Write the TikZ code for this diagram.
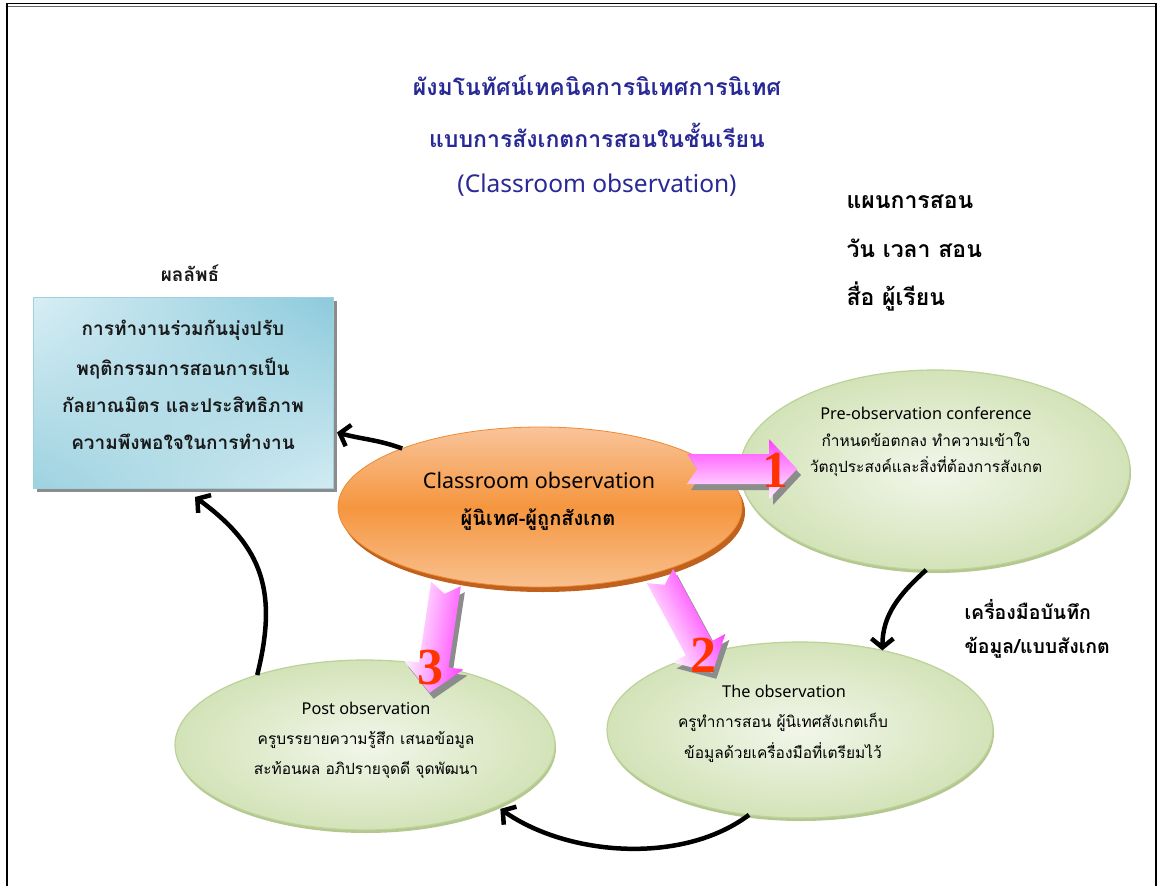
\documentclass[tikz,border=0pt]{standalone}
\usepackage{fontspec}
\usetikzlibrary{shapes.geometric,arrows.meta,calc,shadings}
\newfontfamily\thai[Script=Thai]{Loma}
\newfontfamily\lat{Noto Sans}
\newfontfamily\numfont{Liberation Serif}
\definecolor{titleblue}{RGB}{40,40,150}
\definecolor{grIn}{HTML}{F2F6EA}
\definecolor{grOut}{HTML}{D3E3B8}
\definecolor{grLine}{HTML}{BCD298}
\definecolor{grShadow}{HTML}{B3C78F}
\definecolor{orTop}{HTML}{F9C49A}
\definecolor{orMid}{HTML}{F5963F}
\definecolor{orBot}{HTML}{F9C08E}
\definecolor{orLine}{HTML}{EE8A32}
\definecolor{orShadow}{HTML}{C0621D}
\definecolor{bUL}{HTML}{D8EEF4}
\definecolor{bUR}{HTML}{8CCADC}
\definecolor{bLL}{HTML}{9DD2E0}
\definecolor{bLR}{HTML}{D2EBF2}
\definecolor{bLine}{HTML}{9FD0DE}
\definecolor{shGray}{HTML}{8C8C8C}
\definecolor{arrMag}{HTML}{FF40FF}
\definecolor{arrWhite}{HTML}{FFF4FF}
\definecolor{numRed}{HTML}{FF3300}
\newcommand\pinkarrow[3]{%
  \begin{scope}[transform canvas={shift={(#1+4,#2+6)},rotate=#3}]
    \fill[shGray] (0,-15) -- (82,-15) -- (82,-30) -- (110,0) -- (82,30) -- (82,15) -- (0,15) -- (10,0) -- cycle;
  \end{scope}
  \begin{scope}[transform canvas={shift={(#1,#2)},rotate=#3}]
    \shade[top color=arrMag,bottom color=arrWhite] (0,-15) -- (82,-15) -- (82,-30) -- (110,0) -- (82,30) -- (82,15) -- (0,15) -- (10,0) -- cycle;
  \end{scope}}
\begin{document}
\begin{tikzpicture}[x=1pt,y=-1pt,
  titleT/.style={text=titleblue,font=\thai\bfseries\fontsize{23}{27}\selectfont},
  titleL/.style={text=titleblue,font=\lat\fontsize{24.5}{28}\selectfont},
  sideT/.style={anchor=west,font=\thai\bfseries\fontsize{23}{27}\selectfont},
  boxT/.style={text=black!90,font=\thai\bfseries\fontsize{19}{23}\selectfont},
  ellT/.style={font=\thai\fontsize{15.5}{19}\selectfont},
  ellL/.style={font=\lat\fontsize{16.3}{19}\selectfont},
  cenL/.style={font=\lat\fontsize{21.5}{25}\selectfont},
  cenT/.style={font=\thai\bfseries\fontsize{20}{24}\selectfont},
  greenell/.style={ellipse,draw=grLine,line width=1.2pt,inner color=grIn,outer color=grOut,inner sep=0pt,outer sep=0pt},
  greensh/.style={ellipse,fill=grShadow,inner sep=0pt,outer sep=0pt},
  numlab/.style={text=numRed,font=\numfont\bfseries\fontsize{52}{52}\selectfont,inner sep=0pt},
  blk/.style={line width=4.5pt,-{Straight Barb[length=9pt,width=22pt]}}
]
\useasboundingbox (0,0) rectangle (1160,886);
\fill[white] (0,0) rectangle (1160,886);
% frame
\draw[line width=1.3pt] (7,886) -- (7,3.5) -- (1156,3.5) -- (1156,886);
\draw[line width=0.6pt,black!60] (8,6.5) -- (1155,6.5);

% titles
\node[titleT] (t1) at (597,85) {ผังมโนทัศน์เทคนิคการนิเทศการนิเทศ};
\node[titleT] (t2) at (597,135) {แบบการสังเกตการสอนในชั้นเรียน};
\node[titleL] (t3) at (597,185) {(Classroom observation)};

% right block
\node[sideT] (r1) at (843,202) {แผนการสอน};
\node[sideT] (r2) at (843,248) {วัน เวลา สอน};
\node[sideT] (r3) at (843,297) {สื่อ ผู้เรียน};

% result box
\node[boxT] (reslab) at (190,273) {ผลลัพธ์};
\fill[shGray] (37,301) rectangle (337,492);
\node[rectangle,draw=bLine,line width=0.8pt,upper left=bUL,upper right=bUR,lower left=bLL,lower right=bLR,
      minimum width=300pt,minimum height=191pt,inner sep=0pt,outer sep=0pt] (box) at (183,392.5) {};
\node[boxT] (b1) at (183,330) {การทำงานร่วมกันมุ่งปรับ};
\node[boxT] (b2) at (183,368) {พฤติกรรมการสอนการเป็น};
\node[boxT] (b3) at (183,405) {กัลยาณมิตร และประสิทธิภาพ};
\node[boxT] (b4) at (183,442) {ความพึงพอใจในการทำงาน};

% green ellipses
\node[greensh,minimum width=390pt,minimum height=200pt] (preS) at (936,473) {};
\node[greenell,minimum width=390pt,minimum height=200pt] (pre) at (935,470) {};
\node[greensh,minimum width=386pt,minimum height=176pt] (obsS) at (801,733) {};
\node[greenell,minimum width=386pt,minimum height=176pt] (obs) at (800,730) {};
\node[greensh,minimum width=380pt,minimum height=170pt] (postS) at (366,748) {};
\node[greenell,minimum width=380pt,minimum height=170pt] (post) at (365,745) {};

% central ellipse
\node[ellipse,fill=orShadow,minimum width=404pt,minimum height=160pt,inner sep=0pt] (coS) at (543,512) {};
\node[ellipse,draw=orLine,line width=0.8pt,top color=orTop,bottom color=orBot,middle color=orMid,
      minimum width=404pt,minimum height=160pt,inner sep=0pt,outer sep=0pt] (co) at (540,507) {};

% pink arrows
\pinkarrow{687}{469}{0}
\pinkarrow{660}{576}{-61.6}
\pinkarrow{446}{584}{-98.6}
\node[numlab] (n1) at (775,470) {1};
\node[numlab] (n2) at (703,655) {2};
\node[numlab] (n3) at (430,668) {3};

% texts in ellipses
\node[cenL] (c1) at (539,480) {Classroom observation};
\node[cenT] (c2) at (538,520) {ผู้นิเทศ-ผู้ถูกสังเกต};
\node[ellL] (p1) at (926,413) {Pre-observation conference};
\node[ellT] (p2) at (926,440) {กำหนดข้อตกลง ทำความเข้าใจ};
\node[ellT] (p3) at (926,467) {วัตถุประสงค์และสิ่งที่ต้องการสังเกต};
\node[ellL] (o1) at (784,691) {The observation};
\node[ellT] (o2) at (783,722) {ครูทำการสอน ผู้นิเทศสังเกตเก็บ};
\node[ellT] (o3) at (783,753) {ข้อมูลด้วยเครื่องมือที่เตรียมไว้};
\node[ellL] (q1) at (366,708) {Post observation};
\node[ellT] (q2) at (366,740) {ครูบรรยายความรู้สึก เสนอข้อมูล};
\node[ellT] (q3) at (366,770) {สะท้อนผล อภิปรายจุดดี จุดพัฒนา};

% side text
\node[sideT,font=\thai\bfseries\fontsize{19.5}{23}\selectfont] (s1) at (961,610) {เครื่องมือบันทึก};
\node[sideT,font=\thai\bfseries\fontsize{19.5}{23}\selectfont] (s2) at (961,648) {ข้อมูล/แบบสังเกต};

% black arrows
\draw[blk] (co.157.6) to[out=160,in=-15] ([xshift=4pt,yshift=-40pt]box.east);
\draw[blk] (post.147) to[out=76,in=-36,looseness=1.15] ([xshift=12pt,yshift=-9pt]box.south);
\draw[blk] (pre.265) to[out=222,in=90] (obs.44);
\draw[blk] (obs.239.5) to[out=217,in=-35,looseness=0.85] ([xshift=10pt]post.333);
\end{tikzpicture}
\end{document}
